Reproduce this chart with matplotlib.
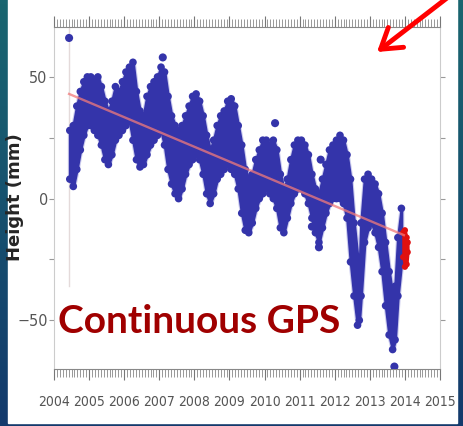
import numpy as np
import matplotlib
matplotlib.use("Agg")
import matplotlib.pyplot as plt
from matplotlib import font_manager as fm
from matplotlib.colors import LinearSegmentedColormap
from matplotlib.ticker import MultipleLocator

# envelope of the daily GPS heights (mm)
times = [2004.45, 2004.55, 2004.65, 2004.75, 2004.85, 2004.95, 2005.05, 2005.15, 2005.25, 2005.35,
         2005.45, 2005.55, 2005.65, 2005.75, 2005.85, 2005.95, 2006.05, 2006.15, 2006.25, 2006.35,
         2006.45, 2006.55, 2006.65, 2006.75, 2006.85, 2006.95, 2007.05, 2007.15, 2007.25, 2007.35,
         2007.45, 2007.55, 2007.65, 2007.75, 2007.85, 2007.95, 2008.05, 2008.15, 2008.25, 2008.35,
         2008.45, 2008.55, 2008.65, 2008.75, 2008.85, 2008.95, 2009.05, 2009.15, 2009.25, 2009.35,
         2009.45, 2009.55, 2009.65, 2009.75, 2009.85, 2009.95, 2010.05, 2010.15, 2010.25, 2010.35,
         2010.45, 2010.55, 2010.65, 2010.75, 2010.85, 2010.95, 2011.05, 2011.15, 2011.25, 2011.35,
         2011.45, 2011.55, 2011.65, 2011.75, 2011.85, 2011.95, 2012.05, 2012.15, 2012.25, 2012.35,
         2012.45, 2012.55, 2012.65, 2012.70, 2012.75, 2012.85, 2012.95, 2013.05, 2013.15, 2013.25,
         2013.35, 2013.45, 2013.55, 2013.65, 2013.72, 2013.80, 2013.90]
lows = [8, 5, 12, 20, 26, 30, 30, 28, 26, 22,
        16, 14, 18, 24, 26, 28, 30, 32, 24, 16,
        13, 14, 18, 22, 24, 26, 28, 22, 12, 6,
        2, 0, 4, 10, 14, 16, 18, 16, 10, 2,
        -2, 2, 8, 10, 12, 14, 12, 10, 4, -6,
        -13, -14, -10, -4, 0, 2, 4, 2, 0, -4,
        -12, -14, -8, -2, 2, 4, 4, 2, -2, -8,
        -14, -18, -12, -6, -2, 0, 0, 0, -2, -8,
        -26, -40, -52, -50, -40, -18, -12, -10, -14, -20,
        -30, -44, -56, -62, -58, -40, -26]
highs = [28, 30, 38, 44, 48, 50, 50, 49, 50, 46,
         40, 36, 40, 46, 44, 48, 52, 54, 56, 44,
         36, 34, 42, 46, 48, 50, 54, 52, 42, 34,
         30, 28, 30, 34, 38, 42, 43, 40, 34, 26,
         20, 24, 30, 34, 36, 40, 41, 38, 30, 22,
         12, 8, 10, 16, 20, 24, 24, 22, 24, 20,
         10, 4, 8, 16, 22, 24, 24, 22, 18, 10,
         4, 2, 8, 14, 20, 22, 24, 26, 24, 18,
         8, -10, -24, -30, -10, 8, 10, 8, 6, 2,
         -6, -18, -30, -40, -36, -16, -4]

# isolated points
dot_t = [2004.43, 2007.10, 2010.30, 2011.35, 2011.60, 2011.55, 2013.70]
dot_h = [66, 58, 31, -11.5, 16, -20, -69]

# latest epochs, shown in red
red_t = [2013.95, 2014.00, 2014.05, 2014.08]
red_low = [-24, -28, -27, -22]
red_high = [-14, -13, -16, -18]

# linear trend
trend_t = [2004.43, 2013.97]
trend_h = [43, -15]

year_ticks = list(range(2004, 2016))

# look for a narrow sans font for the tick labels
narrow = None
for f in fm.fontManager.ttflist:
    if ("Narrow" in f.name or "Condensed" in f.name or f.stretch in ("condensed", "semi-condensed")) \
            and f.weight in (400, "normal", "regular") and f.style == "normal":
        narrow = f.fname
        break
if narrow:
    tick_prop = fm.FontProperties(fname=narrow, size=10)
else:
    tick_prop = fm.FontProperties(family="DejaVu Sans", size=8.5)

fig = plt.figure(figsize=(4.63, 4.26), dpi=100)

# slide background: teal-blue border with white panel
bg = fig.add_axes([0, 0, 1, 1], zorder=-10)
cmap = LinearSegmentedColormap.from_list("slide", ["#1a6670", "#133a6c"])
bg.imshow(np.linspace(0, 1, 100).reshape(-1, 1), cmap=cmap, aspect="auto", extent=(0, 1, 0, 1))
bg.add_patch(plt.Rectangle((8 / 463, 3 / 426), 449 / 463, 1, color="white"))
bg.set_xlim(0, 1)
bg.set_ylim(0, 1)
bg.axis("off")

ax = fig.add_axes([54 / 463, 1 - 369 / 426, 386 / 463, 342 / 426])
ax.set_facecolor("none")

ax.plot([2004.43, 2004.43], [-36, 70], color="#e4dada", lw=1, zorder=1)

blue = "#3434aa"
ax.fill_between(times, lows, highs, facecolor=blue, edgecolor="#6a6ad0", linewidth=3.5, alpha=0.35, zorder=2)
ax.fill_between(times, lows, highs, facecolor=blue, edgecolor=blue, linewidth=2, zorder=3)
ax.scatter(times, lows, s=30, color=blue, edgecolors="none", zorder=3)
ax.scatter(times, highs, s=30, color=blue, edgecolors="none", zorder=3)
ax.scatter(dot_t, dot_h, s=34, color=blue, edgecolors="none", zorder=3)

ax.fill_between(red_t, red_low, red_high, facecolor="#e01010", edgecolor="#e01010", linewidth=2, zorder=4)
ax.scatter(red_t, red_low, s=20, color="#e01010", edgecolors="none", zorder=4)
ax.scatter(red_t, red_high, s=20, color="#e01010", edgecolors="none", zorder=4)

ax.plot(trend_t, trend_h, color="#f27a7a", lw=1.7, alpha=0.75, zorder=5)

ax.set_xlim(2004, 2015)
ax.set_ylim(-70, 70.5)
ax.set_xticks(year_ticks)
ax.xaxis.set_minor_locator(MultipleLocator(1 / 12))
ax.set_yticks([-50, 0, 50])
ax.yaxis.set_minor_locator(MultipleLocator(25))

ax.tick_params(axis="x", which="major", direction="out", length=8, width=0.8, color="#777777",
               top=True, labelcolor="#555555", pad=11)
ax.tick_params(axis="x", which="minor", direction="out", length=5.5, width=0.6, color="#888888", top=True)
ax.tick_params(axis="y", which="both", direction="out", length=3.5, width=0.8, color="#999999",
               right=True, labelcolor="#555555", pad=1)
for lab in ax.get_xticklabels() + ax.get_yticklabels():
    lab.set_fontproperties(tick_prop)
for lab in ax.get_yticklabels():
    lab.set_fontsize(11.5)

for side in ["left", "right"]:
    ax.spines[side].set_color("#cccccc")
for side in ["top", "bottom"]:
    ax.spines[side].set_color("#888888")

fig.text(15 / 463, 1 - 197 / 426, "Height (mm)", rotation=90, ha="center", va="center",
         fontsize=13, fontweight="bold", color="#252525")

fig.text(58 / 463, 1 - 333 / 426, "Continuous GPS", ha="left", va="baseline",
         fontsize=28, fontweight="bold", color="#a00000", family=["Lato", "DejaVu Sans"])

ax.annotate("", xy=(377, 426 - 52), xytext=(447, 428), xycoords="figure pixels",
            textcoords="figure pixels", annotation_clip=False,
            arrowprops=dict(arrowstyle="->,head_length=0.7,head_width=0.45", mutation_scale=20,
                            color="#ff0000", lw=3.5, shrinkA=0, shrinkB=0))

fig.savefig("out.png", dpi=100)
